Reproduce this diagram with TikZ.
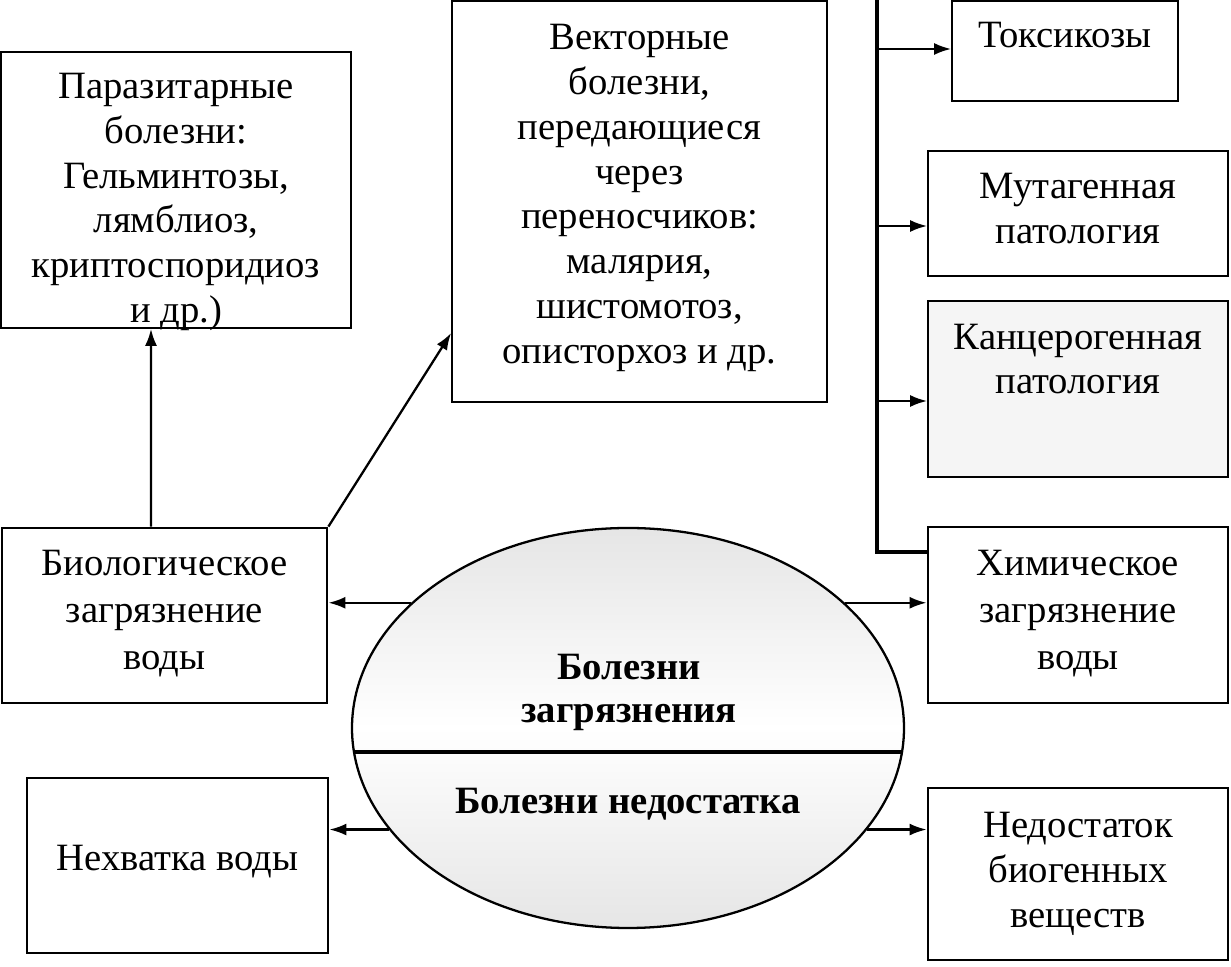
\documentclass[tikz,border=0pt]{standalone}
\usepackage{fontspec}
\setmainfont{Liberation Serif}
\usetikzlibrary{calc, positioning, arrows.meta, shapes.geometric}
\tikzset{
    box/.style={draw, line width=1pt, inner sep=0pt},
    boldbox/.style={box, line width=1.6pt},
    arr/.style={-{Latex[length=3.4mm,width=2.4mm]}, line width=1.3pt},
    bus/.style={line width=2.4pt},
    txt/.style={align=center, inner sep=0pt},
    wide/.style={txt, font=\fontsize{22}{26.8}\selectfont},
    bold/.style={txt, font=\fontsize{22}{24.5}\selectfont\bfseries}
}

\begin{document}
\begin{tikzpicture}[font=\fontsize{22}{25.5}\selectfont]
            \useasboundingbox (0,0) rectangle (24.62,19.34);
            % left column
            \node[box, minimum width=7cm, minimum height=5.52cm] (par) at (3.52,15.54) {};
            \node[txt] (par-t) at (3.52,15.3) {Паразитарные\\болезни:\\Гельминтозы,\\лямблиоз,\\криптоспоридиоз\\и др.)};
            \node[boldbox, minimum width=6.5cm, minimum height=3.5cm] (bio) at (3.29,7.03) {};
            \node[wide] (bio-t) at (3.29,7.07) {Биологическое\\загрязнение\\воды};
            \node[boldbox, minimum width=6.02cm, minimum height=3.5cm] (lack) at (3.55,2.03) {};
            \node[txt] (lack-t) at (3.55,2.1) {Нехватка воды};
            % middle
            \node[box, minimum width=7.5cm, minimum height=8.02cm] (vec) at (12.79,15.31) {};
            \node[txt] (vec-t) at (12.79,15.38) {Векторные\\болезни,\\передающиеся\\через\\переносчиков:\\малярия,\\шистомотоз,\\описторхоз и др.};
            \node[ellipse, draw, line width=1.3pt, minimum width=11.04cm, minimum height=8cm, inner sep=0pt,
                  top color=gray!20, bottom color=gray!20, middle color=white] (ell) at (12.56,4.78) {};
            \node[bold] (pol) at (12.58,5.5) {Болезни\\загрязнения};
            \node[bold] (def) at (12.56,3.26) {Болезни недостатка};
            \draw[line width=2.3pt] (ell.185.6) -- (ell.-5.6);
            % right column
            \node[box, minimum width=4.52cm, minimum height=2cm] (tox) at (21.3,18.32) {};
            \node[txt] (tox-t) at (21.3,18.64) {Токсикозы};
            \node[box, minimum width=6cm, minimum height=2.5cm] (mut) at (21.56,15.07) {};
            \node[txt] (mut-t) at (21.56,15.17) {Мутагенная\\патология};
            \node[box, fill=gray!8, minimum width=6cm, minimum height=3.52cm] (canc) at (21.56,11.56) {};
            \node[txt] (canc-t) at (21.56,12.16) {Канцерогенная\\патология};
            \node[boldbox, minimum width=6cm, minimum height=3.52cm] (chem) at (21.56,7.04) {};
            \node[wide] (chem-t) at (21.56,7.07) {Химическое\\загрязнение\\воды};
            \node[boldbox, minimum width=6cm, minimum height=3.44cm] (ned) at (21.56,1.86) {};
            \node[txt] (ned-t) at (21.56,1.86) {Недостаток\\биогенных\\веществ};
            % bus to the pathologies
            \coordinate (bustop) at (17.54,19.34);
            \coordinate (busbot) at (17.54,8.3);
            \draw[bus] (bustop) -- (busbot) -- (busbot -| chem.west);
            \foreach \n/\dy in {tox/0.04, mut/-0.25, canc/-0.24}{
                \coordinate (\n-in) at ($(\n.west)+(0,\dy)$);
                \draw[arr] (\n-in -| bustop) -- (\n-in);
            }
            % arrows
            \draw[arr] ($(bio.north)+(-0.27,0)$) -- ($(par.south)+(-0.5,0)$);
            \draw[arr] (bio.north east) -- ($(vec.west)+(0,-2.63)$);
            \draw[arr] (ell.150) -- (ell.150 -| bio.east);
            \draw[arr] (ell.30) -- (ell.30 -| chem.west);
            \draw[arr] (ell.203) -- (ell.203 -| lack.east);
            \draw[arr] (ell.-23) -- (ell.-23 -| ned.west);
\end{tikzpicture}
\end{document}
